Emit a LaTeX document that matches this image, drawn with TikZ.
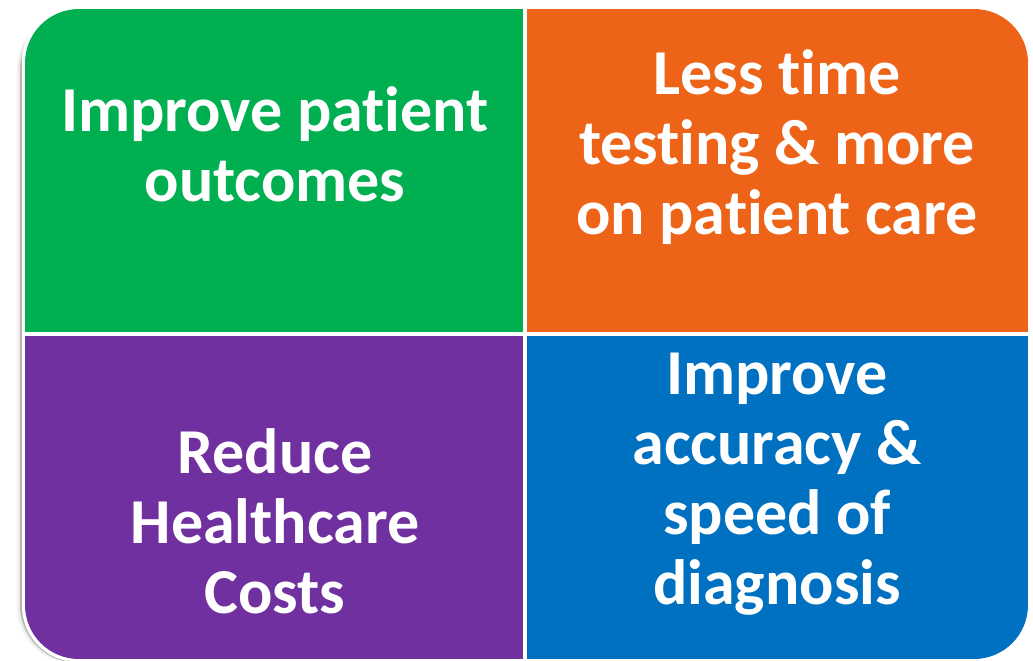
\documentclass[tikz,border=0pt]{standalone}
\usepackage{fontspec}
\setmainfont{Carlito}[Ligatures={NoCommon,NoContextual,NoRequired},RawFeature={-calt}]
\definecolor{cgreen}{HTML}{00B050}
\definecolor{corange}{HTML}{ED6318}
\definecolor{cpurple}{HTML}{7030A0}
\definecolor{cblue}{HTML}{0070C0}
\tikzset{
  quad/.style={rectangle,inner sep=0pt,minimum width=499pt,minimum height=324pt},
  txt/.style={text=white,font=\bfseries\fontsize{64}{70}\selectfont,align=center}
}
\begin{document}
\begin{tikzpicture}[x=1pt,y=-1pt]
        \useasboundingbox (0,0) rectangle (1033,661);

        % soft shadow
        \foreach \o in {0.06,0.05,0.04,0.03,0.02} {
          \fill[black,opacity=\o,rounded corners=58] (20,13) rectangle (1026,663);
        }
        \foreach \d in {1,2,3,4} {
          \fill[black,opacity=0.05,rounded corners=56]
            (25-2*\d,9+\d) rectangle (1028-\d,659+\d);
        }
        \fill[white,rounded corners=56] (22,6) rectangle (1031,662);

        \begin{scope}
          \clip[rounded corners=54] (25,9) rectangle (1028,659);
          \node[quad,fill=cgreen]  (outcomes) at (274.5,171)    {};
          \node[quad,fill=corange,minimum width=501pt] (care) at (777.5,171) {};
          \node[quad,fill=cpurple,minimum height=323pt] (costs) at (274.5,497.5) {};
          \node[quad,fill=cblue,minimum width=501pt,minimum height=323pt] (diagnosis) at (777.5,497.5) {};
        \end{scope}

        % white dividers
        \draw[white,line width=3pt] (outcomes.north east) -- (costs.south east);
        \draw[white,line width=3pt] (outcomes.south west) -- (care.south east);

        \begin{scope}[every node/.style={txt}]
          \node (outcomestxt)  at (275,144) {Improve patient\\outcomes};
          \node (caretxt)      at (777,147) {Less time\\testing \& more\\on patient care};
          \node (coststxt)     at (275,521) {Reduce\\Healthcare\\Costs};
          \node (diagnosistxt) at (777,484) {Improve\\accuracy \&\\speed of\\diagnosis};
        \end{scope}

      \end{tikzpicture}
\end{document}
